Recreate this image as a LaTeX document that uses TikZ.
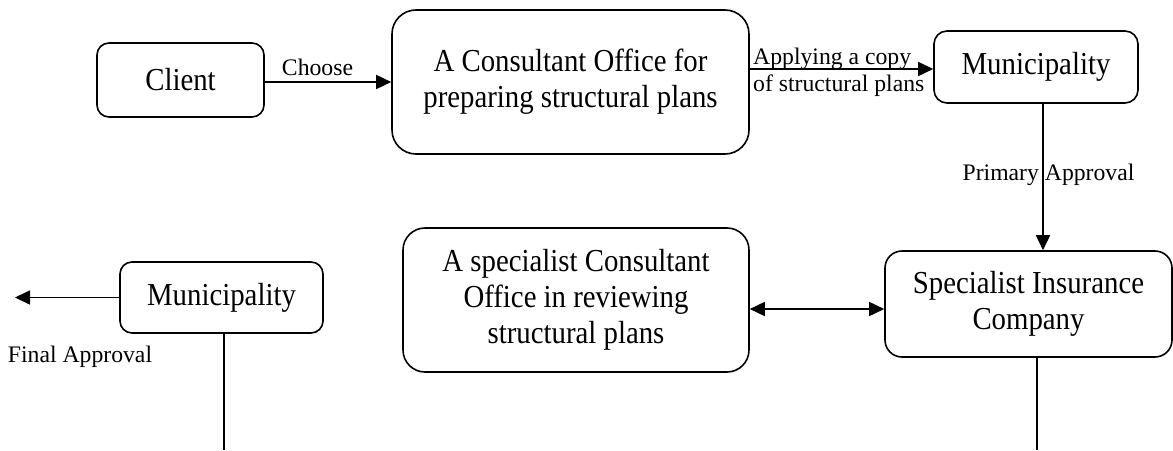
\documentclass[tikz,border=0pt]{standalone}
\usepackage{fontspec}
\setmainfont{Liberation Serif}
\newfontfamily\boxfont[FakeStretch=0.9]{Liberation Serif}
\usetikzlibrary{arrows.meta,calc}
\begin{document}
\begin{tikzpicture}[x=1pt,y=-1pt,
  box/.style={draw=black, line width=1.6pt, align=center, inner sep=0pt, font={\boxfont\fontsize{32}{36}\selectfont}},
  lbl/.style={inner sep=0pt, font=\fontsize{23.7}{26.7}\selectfont},
  arr/.style={line width=1.6pt, -{Triangle[length=15pt,width=14pt]}},
  darr/.style={line width=1.6pt, {Triangle[length=15pt,width=14pt]}-{Triangle[length=15pt,width=14pt]}},
  ln/.style={line width=1.6pt}]
\useasboundingbox (0,0) rectangle (1173,450);
% boxes
\node[box, rounded corners=12pt, minimum width=167pt, minimum height=74pt] (client) at (180.5,80) {Client};
\node[box, rounded corners=24pt, minimum width=357pt, minimum height=144pt] (office) at (570.5,82) {A Consultant Office for\\preparing structural plans};
\node[box, rounded corners=13pt, minimum width=204pt, minimum height=72pt] (muni1) at (1036,67) {Municipality};
\node[box, rounded corners=22pt, minimum width=346pt, minimum height=144pt] (sc) at (576,300) {A specialist Consultant\\Office in reviewing\\structural plans};
\node[box, rounded corners=17pt, minimum width=287pt, minimum height=106pt] (si) at (1028.5,304) {Specialist Insurance\\Company};
\node[box, rounded corners=12pt, minimum width=203pt, minimum height=71pt] (muni2) at (221.5,297.5) {Municipality};
% labels
\node[lbl, anchor=base] (choose) at (317.5,75) {Choose};
\node[lbl, anchor=west, align=left] (apply) at (753,72) {Applying a copy\\of structural plans};
\node[lbl, anchor=base] (primary) at (1048.5,180) {Primary Approval};
\node[lbl, anchor=base] (final) at (80,362) {Final Approval};
% free ends
\coordinate (e1) at (1037,450);
\coordinate (e2) at (15,297.5);
\coordinate (e3) at (224,450);
% connectors
\draw[arr] ([yshift=-2pt]client.east) -- ([yshift=-2pt]client.east -| office.west);
\draw[arr] ([yshift=-2pt]muni1.west -| office.east) -- ([yshift=-2pt]muni1.west);
\draw[arr] ([xshift=7pt]muni1.south) -- ([xshift=7pt]muni1.south |- si.north);
\draw[darr] ([yshift=-9pt]sc.east) -- ([yshift=-9pt]sc.east -| si.west);
\draw[ln] (si.south -| e1) -- (e1);
\draw[arr] (muni2.west) -- (e2);
\draw[ln] (muni2.south -| e3) -- (e3);
\end{tikzpicture}
\end{document}
